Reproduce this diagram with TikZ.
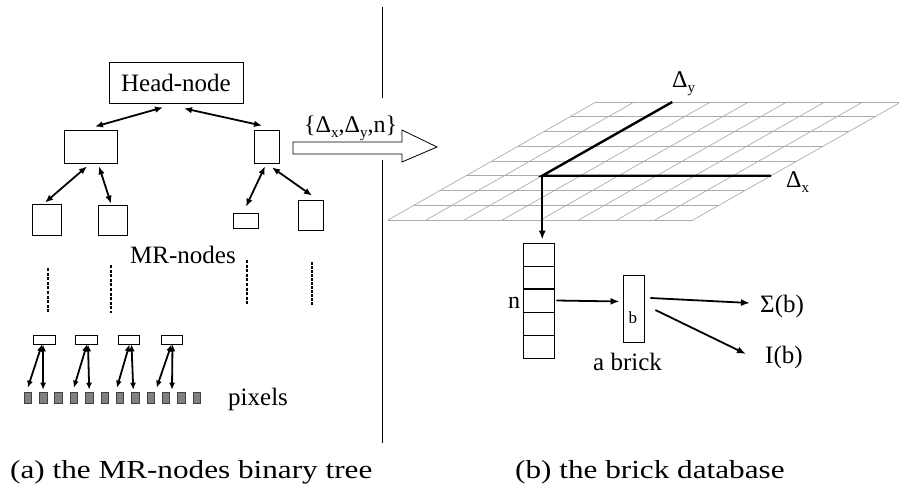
\documentclass[tikz,border=0pt]{standalone}
\usepackage{fontspec}
\setmainfont{Liberation Serif}
\newfontfamily\capfont[FakeStretch=1.2]{Liberation Serif}
\usetikzlibrary{calc,arrows.meta}
\newcommand\mysub[1]{\raisebox{-0.4ex}{\fontsize{15}{15}\selectfont #1}}
\begin{document}
\begin{tikzpicture}[x=1pt,y=-1pt,
  box/.style={draw,line width=0.8pt,inner sep=0pt},
  lbl/.style={inner sep=0pt,anchor=base west,font=\fontsize{25}{25}\selectfont},
  caplbl/.style={inner sep=0pt,anchor=base west,font=\capfont\fontsize{26}{26}\selectfont},
  dbl/.style={{Latex[length=8pt,width=6.5pt]}-{Latex[length=8pt,width=6.5pt]},line width=1.8pt},
  sdbl/.style={{Latex[length=7pt,width=6pt]}-{Latex[length=7pt,width=6pt]},line width=1.8pt},
  arr/.style={-{Latex[length=9pt,width=7pt]},line width=1.8pt},
  gridline/.style={draw=gray!65,line width=0.7pt},
  thickline/.style={line width=2.4pt},
  pix/.style={draw=black!75,fill=gray,line width=0.6pt,minimum width=7.5pt,minimum height=11pt,inner sep=0pt},
  dots/.style={dash pattern=on 3pt off 1.6pt,line width=1.3pt}]
\useasboundingbox (0,0) rectangle (899,489);

% ---------- separator ----------
\draw[line width=0.9pt] (382,7) -- (382,98);
\draw[line width=0.9pt] (382,160) -- (382,443);

% ---------- left: tree ----------
\node[box,minimum width=134pt,minimum height=41pt,font=\fontsize{25}{25}\selectfont] (head) at (176,82.5) {Head-node};
\node[box,minimum width=53pt,minimum height=33pt] (ml) at (90.5,146.5) {};
\node[box,minimum width=25pt,minimum height=33pt] (mr) at (266.5,146.5) {};
\node[box,minimum width=29pt,minimum height=31pt] (ll) at (46.5,219.5) {};
\node[box,minimum width=29pt,minimum height=30pt] (lr) at (112.5,220) {};
\node[box,minimum width=25pt,minimum height=15pt] (rl) at (245.5,220.5) {};
\node[box,minimum width=25pt,minimum height=30pt] (rr) at (310.5,215) {};

\draw[dbl] ($(head.south)+(-13,4)$) -- ($(ml.north)+(4.5,-3)$);
\draw[dbl] ($(head.south)+(8,5)$) -- ($(mr.north)+(-4.5,-4)$);
\draw[dbl] ($(ml.south)+(-3.5,3)$) -- ($(ll.north)+(-1.5,-1)$);
\draw[dbl] ($(ml.south)+(8.5,3)$) -- ($(lr.north)+(-1.5,-1)$);
\draw[dbl] ($(mr.south)+(-1.5,3)$) -- ($(rl.north)+(0.5,-6)$);
\draw[dbl] ($(mr.south)+(5.5,4)$) -- ($(rr.north)+(1.5,-4)$);

\node[lbl] (mrlbl) at (130,263) {MR-nodes};

\draw[dots] (48,268) -- (48,312);
\draw[dots] (111,265) -- (111,313);
\draw[dots] (247,260) -- (247,305);
\draw[dots,line width=2.2pt,dash pattern=on 2.5pt off 1.5pt] (312,262) -- (312,306);

\node[box,minimum width=22pt,minimum height=9pt] (s1) at (44,339.5) {};
\node[box,minimum width=22pt,minimum height=9pt] (s2) at (86,339.5) {};
\node[box,minimum width=21pt,minimum height=9pt] (s3) at (128.5,339.5) {};
\node[box,minimum width=21pt,minimum height=9pt] (s4) at (171.5,339.5) {};

\foreach \i in {0,...,11} \node[pix] (p\i) at ({27.75+15.36*\i},397.5) {};

\draw[sdbl] ([xshift=-2pt]s1.south) -- ([yshift=4pt]p0.north);
\draw[sdbl] ([xshift=-1pt]s1.south) -- ([yshift=2pt]p1.north);
\draw[sdbl] ([xshift=1pt]s2.south) -- ([yshift=4pt]p3.north);
\draw[sdbl] ([xshift=2pt]s2.south) -- ([yshift=2pt]p4.north);
\draw[sdbl] ([xshift=1pt]s3.south) -- ([xshift=-3pt,yshift=4pt]p6.north);
\draw[sdbl] ([xshift=3pt]s3.south) -- ([xshift=-2pt,yshift=2pt]p7.north);
\draw[sdbl] (s4.south) -- ([xshift=6pt,yshift=4pt]p8.north);
\draw[sdbl] ([xshift=1pt]s4.south) -- ([xshift=6pt,yshift=2pt]p9.north);

\node[lbl] (pixlbl) at (228,405) {pixels};

% ---------- transfer arrow ----------
\draw[line width=0.8pt,fill=white] (293,142) -- (402,142) -- (402,130) -- (437,147) -- (402,162) -- (402,154) -- (293,154) -- cycle;
\node[lbl,font=\fontsize{24}{24}\selectfont] (tr) at (304,133) {\{Δ\mysub{x},Δ\mysub{y},n\}};

% ---------- right: grid ----------
\foreach \j in {0,...,8} \draw[gridline] (388+26*\j,220-14.75*\j) -- ++(305,0);
\foreach \i in {0,...,8} \draw[gridline] (388+38.125*\i,220) -- (596+38.125*\i,102);

\coordinate (o) at (542.25,175.75);
\coordinate (dyend) at (672.25,102);
\coordinate (dxend) at (771,175.75);
\draw[thickline] (dyend) -- (o) -- (dxend);
\node[lbl,font=\fontsize{24}{24}\selectfont] (dylbl) at (672,88) {Δ\mysub{y}};
\node[lbl,font=\fontsize{24}{24}\selectfont] (dxlbl) at (786,188) {Δ\mysub{x}};

% ---------- stack ----------
\foreach \k/\yy in {1/254.5,2/277.5,3/300.5,4/323.5,5/346.5}
  \node[box,minimum width=31pt,minimum height=23pt] (c\k) at (538.5,\yy) {};
\draw[line width=1.8pt] (c3.north west) -- (c3.north east);
\draw[line width=1.8pt] (c3.south west) -- (c3.south east);
\draw[arr,line width=2.2pt] (o) -- ($(o |- c1.north)+(0,-3)$);
\node[lbl,font=\fontsize{24}{24}\selectfont] (nlbl) at (508,308) {n};

% ---------- brick ----------
\node[box,minimum width=21pt,minimum height=67pt] (brick) at (633.5,308.5) {};
\node[lbl,font=\fontsize{17}{17}\selectfont] (blbl) at (628.5,323) {b};
\node[lbl] (bricklbl) at (593,370) {a brick};
\draw[arr] ([xshift=2pt]c3.east) -- ($(c3.east -| brick.west)+(-3,1)$);

\node[lbl] (sig) at (760,312) {Σ(b)};
\node[lbl] (ib) at (765,363) {I(b)};
\draw[arr] ($(brick.east)+(6,-10.5)$) -- ($(sig.base west)+(-10,-9)$);
\draw[arr] ($(brick.east)+(11,1.5)$) -- ($(ib.base west)+(-19,-9)$);

% ---------- captions ----------
\node[caplbl] (capa) at (10,478) {(a) the MR-nodes binary tree};
\node[caplbl] (capb) at (515,478) {(b) the brick database};
\end{tikzpicture}
\end{document}
